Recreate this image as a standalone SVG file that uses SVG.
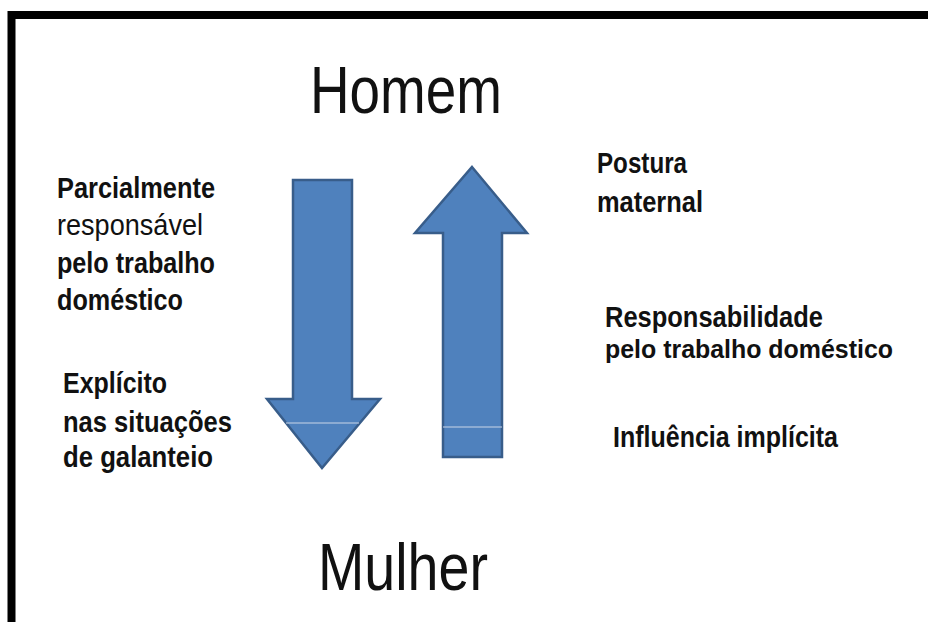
<svg xmlns="http://www.w3.org/2000/svg" width="928" height="622" viewBox="0 0 928 622">
<style>
.t{font-family:"Liberation Sans",Arial,sans-serif;fill:#111}
.big{font-size:66px}
.lab{font-size:29px;font-weight:bold}
.labn{font-size:29px}
.arr{fill:#4F81BD;stroke:#385D8A;stroke-width:2.5;stroke-linejoin:miter}
.art{stroke:#C9D6E8;stroke-width:1.2}
</style>
<rect x="0" y="0" width="928" height="622" fill="#fff"/>
<rect x="11.5" y="15" width="1000" height="1000" fill="none" stroke="#000" stroke-width="8"/>
<g id="homem"><text class="t big" x="310" y="113" textLength="192" lengthAdjust="spacingAndGlyphs">Homem</text></g>
<g id="mulher"><text class="t big" x="318" y="590" textLength="170" lengthAdjust="spacingAndGlyphs">Mulher</text></g>
<g id="connectors">
<g id="arrow-down">
<path class="arr" d="M293,180 L352,180 L352,399 L380,399 L322,468 L267,399 L293,399 Z"/>
<line class="art" x1="286" y1="423" x2="359" y2="423"/>
</g>
<g id="arrow-up">
<path class="arr" d="M472,167 L527,233 L502,233 L502,457 L443,457 L443,233 L415,233 Z"/>
<line class="art" x1="443" y1="427" x2="502" y2="427"/>
</g>
</g>
<g id="left-top">
<text class="t lab" x="57" y="198" textLength="158" lengthAdjust="spacingAndGlyphs">Parcialmente</text>
<text class="t labn" x="57" y="235" textLength="146" lengthAdjust="spacingAndGlyphs">responsável</text>
<text class="t lab" x="57" y="273" textLength="158" lengthAdjust="spacingAndGlyphs">pelo trabalho</text>
<text class="t lab" x="57" y="310" textLength="126" lengthAdjust="spacingAndGlyphs">doméstico</text>
</g>
<g id="left-bottom">
<text class="t lab" x="63" y="393" textLength="104" lengthAdjust="spacingAndGlyphs">Explícito</text>
<text class="t lab" x="63" y="432" textLength="169" lengthAdjust="spacingAndGlyphs">nas situações</text>
<text class="t lab" x="63" y="467" textLength="150" lengthAdjust="spacingAndGlyphs">de galanteio</text>
</g>
<g id="right-top">
<text class="t lab" x="597" y="173" textLength="90" lengthAdjust="spacingAndGlyphs">Postura</text>
<text class="t lab" x="597" y="212" textLength="106" lengthAdjust="spacingAndGlyphs">maternal</text>
</g>
<g id="right-mid">
<text class="t lab" x="605" y="327" textLength="218" lengthAdjust="spacingAndGlyphs">Responsabilidade</text>
<text class="t lab" x="605" y="358" font-size="25" style="font-size:25px" textLength="288" lengthAdjust="spacingAndGlyphs">pelo trabalho doméstico</text>
</g>
<g id="right-bottom">
<text class="t lab" x="613" y="447" textLength="225" lengthAdjust="spacingAndGlyphs">Influência implícita</text>
</g>
</svg>
